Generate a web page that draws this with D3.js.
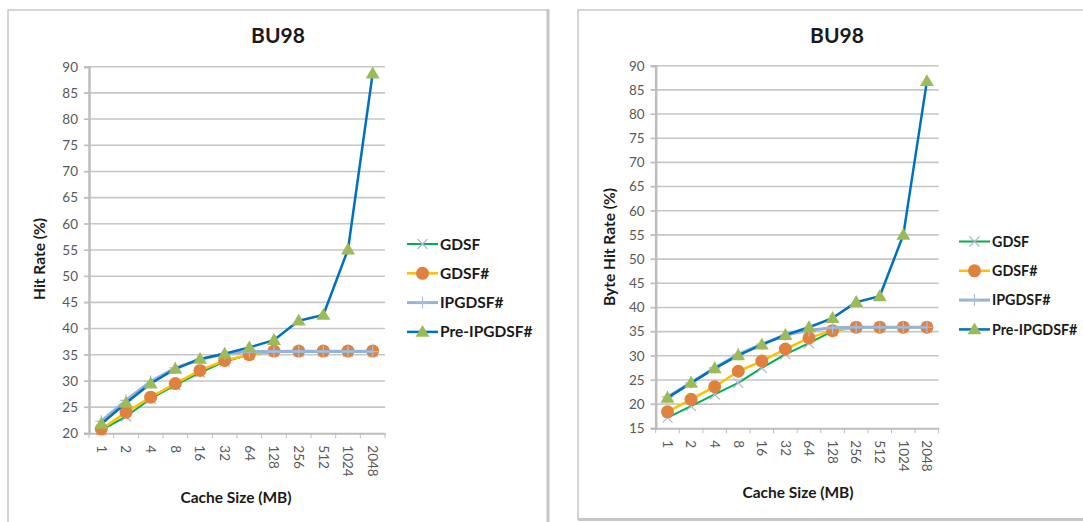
<!DOCTYPE html>
<html>
<head>
<meta charset="utf-8">
<script src="https://cdn.jsdelivr.net/npm/d3@7"></script>
<style>
  html, body { margin: 0; padding: 0; background: #fff; }
  svg { display: block; }
  text { font-family: Lato, "Liberation Sans", sans-serif; }
</style>
</head>
<body>
<svg id="chart" width="1083" height="522"></svg>
<script>
// ---------- DATA ----------
const categories = ["1","2","4","8","16","32","64","128","256","512","1024","2048"];
const seriesNames = ["GDSF","GDSF#","IPGDSF#","Pre-IPGDSF#"];

// Left panel: Hit Rate (%)
const hitGDSF     = [20.6, 23.2, 26.6, 29.2, 31.6, 33.7, 35.0, 35.6, 35.6, 35.6, 35.6, 35.6];
const hitGDSFs    = [20.8, 24.0, 26.9, 29.5, 32.0, 33.9, 35.0, 35.7, 35.7, 35.7, 35.7, 35.7];
const hitIPGDSFs  = [22.3, 26.3, 29.9, 32.5, 34.1, 35.2, 35.6, 35.6, 35.6, 35.6, 35.6, 35.6];
const hitPre      = [21.8, 25.8, 29.5, 32.3, 34.2, 35.2, 36.4, 37.8, 41.5, 42.6, 55.1, 88.7];
const hitTicks    = [20, 25, 30, 35, 40, 45, 50, 55, 60, 65, 70, 75, 80, 85, 90];

// Right panel: Byte Hit Rate (%)
const byteGDSF    = [17.2, 19.6, 22.0, 24.4, 27.5, 30.3, 32.6, 35.1, 35.9, 35.9, 35.9, 35.9];
const byteGDSFs   = [18.4, 21.0, 23.6, 26.8, 28.9, 31.4, 33.7, 35.2, 35.9, 35.9, 35.9, 35.9];
const byteIPGDSFs = [21.5, 24.4, 27.5, 30.3, 32.4, 34.3, 35.3, 35.8, 35.9, 35.9, 35.9, 35.9];
const bytePre     = [21.3, 24.4, 27.4, 30.1, 32.3, 34.3, 35.9, 37.8, 41.1, 42.3, 55.0, 86.8];
const byteTicks   = [15, 20, 25, 30, 35, 40, 45, 50, 55, 60, 65, 70, 75, 80, 85, 90];

// ---------- STYLE ----------
const styles = [
  { line: "#00B050", width: 2,   marker: "x",   mcolor: "#B9B3D6", msize: 5 },
  { line: "#FFC000", width: 2.5, marker: "o",   mcolor: "#E0823E", msize: 6.5 },
  { line: "#95B3D7", width: 3,   marker: "+",   mcolor: "#A8BEDD", msize: 6 },
  { line: "#0070C0", width: 2.5, marker: "tri", mcolor: "#9BBB59", msize: 7 }
];

const svg = d3.select("#chart");

// Panel frames
svg.append("path").attr("d", "M8,522 V10 H548 V522")
  .attr("fill", "none").attr("stroke", "#c8c8c8").attr("stroke-width", 1.5);
svg.append("line").attr("x1", 548).attr("x2", 548).attr("y1", 9).attr("y2", 522)
  .attr("stroke", "#c6c6c6").attr("stroke-width", 3);
svg.append("path").attr("d", "M1083,10 H578 V519 H1083")
  .attr("fill", "none").attr("stroke", "#c8c8c8").attr("stroke-width", 1.5);
svg.append("line").attr("x1", 578).attr("x2", 1083).attr("y1", 519.5).attr("y2", 519.5)
  .attr("stroke", "#c6c6c6").attr("stroke-width", 3);

function drawPanel(cfg) {
  const g = svg.append("g");
  const x = d3.scaleBand().domain(categories).range([cfg.left, cfg.right]);
  const y = d3.scaleLinear().domain([cfg.ymin, cfg.ymax]).range([cfg.bottom, cfg.top]);

  // Gridlines
  g.append("g").selectAll("line").data(cfg.ticks.filter(t => t !== cfg.ymin)).join("line")
    .attr("x1", cfg.left - 5).attr("x2", cfg.right)
    .attr("y1", d => y(d)).attr("y2", d => y(d))
    .attr("stroke", "#c6c6c6").attr("stroke-width", 1.6);

  // Y axis
  const yAxis = g.append("g").attr("transform", `translate(${cfg.left},0)`)
    .call(d3.axisLeft(y).tickValues(cfg.ticks).tickSize(5).tickPadding(6).tickFormat(d3.format("d")));
  yAxis.select(".domain").attr("stroke", "#bdbdbd").attr("stroke-width", 2.5);
  yAxis.selectAll(".tick line").attr("stroke", "#bdbdbd");
  yAxis.selectAll("text").attr("fill", "#595959").attr("font-size", 13.5);

  // X axis with ticks at band boundaries
  const xAxis = g.append("g").attr("transform", `translate(0,${cfg.bottom})`)
    .call(d3.axisBottom(x).tickSize(0).tickPadding(0));
  xAxis.select(".domain").attr("stroke", "#bdbdbd").attr("stroke-width", 2);
  xAxis.selectAll("text")
    .attr("fill", "#595959").attr("font-size", 13.5)
    .attr("transform", "rotate(90)")
    .attr("dy", "0.35em").attr("x", 12).attr("y", 0)
    .style("text-anchor", "start");
  const bounds = categories.map(c => x(c)).concat([cfg.right]);
  g.append("g").selectAll("line").data(bounds).join("line")
    .attr("x1", d => d).attr("x2", d => d)
    .attr("y1", cfg.bottom).attr("y2", cfg.bottom + 5)
    .attr("stroke", "#bdbdbd").attr("stroke-width", 1);

  const cx = c => x(c) + x.bandwidth() / 2;

  // Series
  cfg.series.forEach((vals, i) => {
    const st = styles[i];
    const pts = categories.map((c, j) => [cx(c), y(vals[j])]);
    g.append("path").attr("d", d3.line()(pts))
      .attr("fill", "none").attr("stroke", st.line).attr("stroke-width", st.width)
      .attr("stroke-linejoin", "round");
    drawMarkers(g, pts, st);
  });

  // Title
  g.append("text").attr("x", cfg.titleX).attr("y", 43).attr("text-anchor", "middle")
    .attr("font-size", 21).attr("font-weight", "bold").attr("fill", "#1a1a1a").text("BU98");
  // Y label
  g.append("text").attr("transform", `translate(${cfg.ylabX},${cfg.ylabY}) rotate(-90)`)
    .attr("text-anchor", "middle").attr("font-size", 15.5).attr("font-weight", "bold")
    .attr("fill", "#1a1a1a").text(cfg.ylabel);
  // X label
  g.append("text").attr("x", cfg.xlabX).attr("y", cfg.xlabY).attr("text-anchor", "middle")
    .attr("font-size", 15.5).attr("font-weight", "bold").attr("fill", "#1a1a1a").text("Cache Size (MB)");

  // Legend
  seriesNames.forEach((name, i) => {
    const st = styles[i];
    const ly = cfg.legY + i * 29.3;
    const lg = g.append("g");
    lg.append("line").attr("x1", cfg.legX).attr("x2", cfg.legX + 31)
      .attr("y1", ly).attr("y2", ly).attr("stroke", st.line).attr("stroke-width", st.width);
    drawMarkers(lg, [[cfg.legX + 15.5, ly]], st);
    lg.append("text").attr("x", cfg.legX + 33).attr("y", ly).attr("dy", "0.36em")
      .attr("font-size", cfg.legFont).attr("font-weight", "bold").attr("fill", "#1a1a1a").text(name);
  });
}

function drawMarkers(g, pts, st) {
  const s = st.msize;
  pts.forEach(([px, py]) => {
    if (st.marker === "o") {
      g.append("circle").attr("cx", px).attr("cy", py).attr("r", s).attr("fill", st.mcolor);
    } else if (st.marker === "tri") {
      g.append("path").attr("d", `M${px},${py - s} L${px + s},${py + s * 0.7} L${px - s},${py + s * 0.7} Z`)
        .attr("fill", st.mcolor);
    } else if (st.marker === "x") {
      g.append("path").attr("d", `M${px - s},${py - s} L${px + s},${py + s} M${px - s},${py + s} L${px + s},${py - s}`)
        .attr("stroke", st.mcolor).attr("stroke-width", 1.2).attr("fill", "none");
    } else if (st.marker === "+") {
      g.append("path").attr("d", `M${px - s},${py} L${px + s},${py} M${px},${py - s} L${px},${py + s}`)
        .attr("stroke", st.mcolor).attr("stroke-width", 1.2).attr("fill", "none");
    }
  });
}

drawPanel({
  left: 89, right: 385, top: 66.7, bottom: 433.3, ymin: 20, ymax: 90, ticks: hitTicks,
  series: [hitGDSF, hitGDSFs, hitIPGDSFs, hitPre],
  titleX: 278, ylabel: "Hit Rate (%)", ylabX: 45, ylabY: 259, xlabX: 236, xlabY: 503,
  legX: 407, legY: 244, legFont: 15.5
});

drawPanel({
  left: 655.7, right: 938.7, top: 65.7, bottom: 428.3, ymin: 15, ymax: 90, ticks: byteTicks,
  series: [byteGDSF, byteGDSFs, byteIPGDSFs, bytePre],
  titleX: 837, ylabel: "Byte Hit Rate (%)", ylabX: 615, ylabY: 247, xlabX: 798, xlabY: 498,
  legX: 959, legY: 241.5, legFont: 14.3
});
</script>
</body>
</html>
